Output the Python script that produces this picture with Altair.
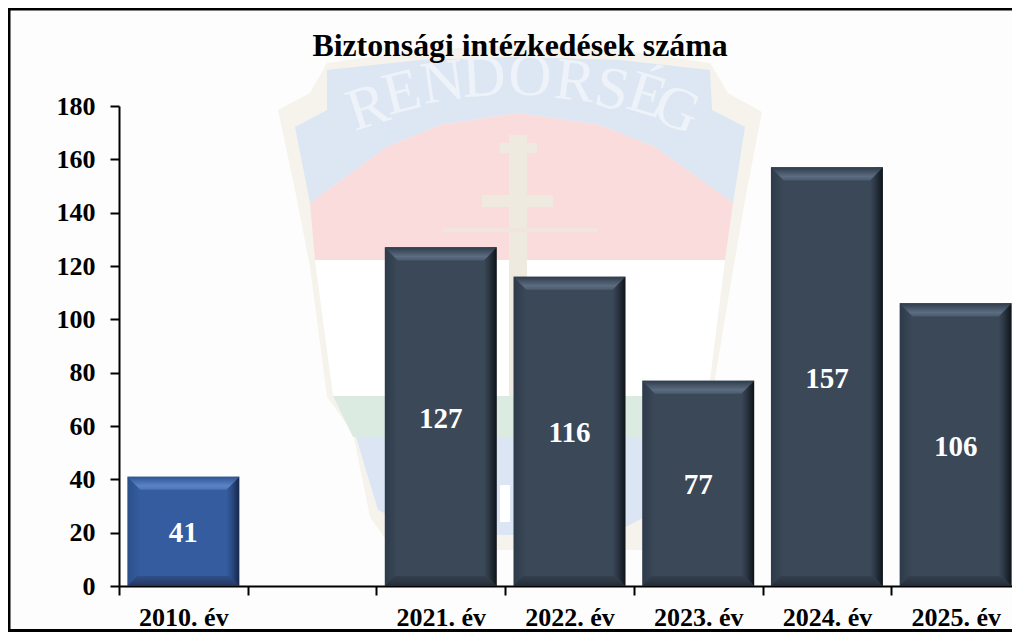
import altair as alt
import pandas as pd

categories = ["2010. év", " ", "2021. év", "2022. év", "2023. év", "2024. év", "2025. év"]
values = [41, None, 127, 116, 77, 157, 106]
series = ["old", "none", "new", "new", "new", "new", "new"]
y_ticks = [0, 20, 40, 60, 80, 100, 120, 140, 160, 180]
title_text = "Biztonsági intézkedések száma"
word_letters = ["R", "E", "N", "D", "O", "R", "S", "É", "G"]

FONT = "Liberation Serif"
df_all = pd.DataFrame({"cat": categories, "value": values, "kind": series, "zero": [0] * 7})
df = df_all[df_all["kind"] != "none"]

x_scale = alt.Scale(domain=categories, range=[0, 901], paddingInner=0, paddingOuter=0)
y_scale = alt.Scale(domain=[0, 180], nice=False)
OX, OY = 119, 106  # plot origin on the page
BOTTOM_PAD = 46
WIDTH = 893


def px(p):
    return p - OX


def py(p):
    return p - OY


# ---- watermark emblem (decoration, drawn behind the data) ----
EM_C = (520, 300)
EM_H = 500


def shape_of(points):
    parts = []
    for i, (a, b) in enumerate(points):
        parts.append(("M" if i == 0 else "L") + f"{(a - EM_C[0]) / EM_H:.4f},{(b - EM_C[1]) / EM_H:.4f}")
    return " ".join(parts) + " Z"


def emblem(points, color):
    return alt.Chart(pd.DataFrame({"a": [0]})).mark_point(
        shape=shape_of(points), size=(2 * EM_H) ** 2, filled=True, fill=color, opacity=1, strokeWidth=0
    ).encode(x=alt.value(px(EM_C[0])), y=alt.value(py(EM_C[1])))


shield = [(278, 110), (310, 93), (327, 63), (420, 50), (520, 45), (620, 50), (710, 63), (728, 93), (762, 112),
          (745, 200), (728, 300), (712, 397), (690, 433), (672, 517), (648, 550), (393, 550), (370, 517),
          (353, 433), (327, 397), (310, 267), (295, 190)]
blue = [(295, 127), (327, 110), (327, 70), (420, 60), (520, 57), (620, 60), (710, 70), (712, 110), (745, 127),
        (733, 203), (655, 147), (600, 125), (517, 113), (440, 125), (387, 147), (310, 203)]
red = [(310, 203), (387, 147), (440, 125), (517, 113), (600, 125), (655, 147), (733, 203), (725, 260), (315, 260)]
white = [(315, 260), (725, 260), (708, 396), (333, 396)]
green = [(333, 396), (708, 396), (690, 437), (353, 437)]
blue2 = [(356, 437), (683, 437), (668, 505), (610, 535), (430, 535), (378, 510)]
cross_v = [(509, 135), (527, 135), (527, 396), (509, 396)]
arm1 = [(500, 143), (537, 143), (537, 153), (500, 153)]
arm2 = [(482, 195), (553, 195), (553, 207), (482, 207)]
beam = [(443, 228), (598, 228), (598, 232), (443, 232)]
letter_i = [(500, 485), (510, 485), (510, 522), (500, 522)]

layers = [
    emblem(shield, "#f5f3ec"), emblem(blue, "#dde6f3"), emblem(red, "#fbdcdc"), emblem(white, "#ffffff"),
    emblem(green, "#dcebe2"), emblem(blue2, "#dbe5f3"), emblem(cross_v, "#efeadf"), emblem(arm1, "#efeadf"),
    emblem(arm2, "#efeadf"), emblem(beam, "#f0e6dc"), emblem(letter_i, "#ffffff"),
]

letter_x = [368, 402, 443, 484, 530, 575, 612, 647, 677]
letter_y = [108, 93, 83, 78, 77, 82, 90, 96, 110]
letter_a = [342, 346, 352, 357, 2, 7, 12, 17, 22]
for ch, lx, ly, la in zip(word_letters, letter_x, letter_y, letter_a):
    layers.append(
        alt.Chart(pd.DataFrame({"t": [ch]})).mark_text(
            font=FONT, fontSize=60, color="#eef3f9", angle=la, baseline="middle", align="center"
        ).encode(x=alt.value(px(lx)), y=alt.value(py(ly)), text="t:N")
    )


# ---- bars ----
def grad_h(c):
    return alt.Gradient(
        gradient="linear", x1=0, x2=1, y1=0, y2=0,
        stops=[alt.GradientStop(offset=0, color=c["left"]), alt.GradientStop(offset=0.11, color=c["body"]),
               alt.GradientStop(offset=0.885, color=c["body"]), alt.GradientStop(offset=0.93, color=c["mid"]),
               alt.GradientStop(offset=1, color=c["right"])],
    )


def grad_v(c0, c1, c2):
    return alt.Gradient(
        gradient="linear", x1=0, x2=0, y1=0, y2=1,
        stops=[alt.GradientStop(offset=0, color=c0), alt.GradientStop(offset=0.7, color=c1),
               alt.GradientStop(offset=1, color=c2)],
    )


palettes = {
    "old": dict(left="#2b4f8a", body="#345c9f", mid="#2b4c84", right="#16264a",
                t0="#2f5494", t1="#5b84c6", t2="#4a73b4", b0="#2f4f8a", b1="#2a3f6a", b2="#233357"),
    "new": dict(left="#2d3a49", body="#3b4858", mid="#2c3744", right="#0e1318",
                t0="#2e3b4b", t1="#5c6c81", t2="#4b5a6d", b0="#343f4e", b1="#2a333f", b2="#222a35"),
}
TOP = "M-1,0 L1,0 L0.77,0.235 L-0.77,0.235 Z"
BOT = "M-0.83,-0.18 L0.83,-0.18 L1,0 L-1,0 Z"
BAR = 112

x_axis = alt.Axis(
    labelFont=FONT, labelFontSize=26, labelFontWeight="bold", labelColor="#000000", labelAngle=0,
    labelPadding=9, tickBand="extent", tickSize=9, tickWidth=2, tickColor="#000000",
    domainColor="#000000", domainWidth=2, grid=False, labelOverlap=False, title=None,
)
y_axis = alt.Axis(
    values=y_ticks, labelFont=FONT, labelFontSize=26, labelFontWeight="bold", labelColor="#000000",
    labelPadding=15, tickSize=9, tickWidth=2, tickColor="#000000", domainColor="#000000",
    domainWidth=2, grid=False, title=None,
)
x_enc = alt.X("cat:N", scale=x_scale, sort=categories, axis=x_axis)
y_enc = alt.Y("value:Q", scale=y_scale, axis=y_axis, stack=None)
y_zero = alt.Y("zero:Q", scale=y_scale, axis=y_axis)

for kind, c in palettes.items():
    sub = alt.Chart(df).transform_filter(alt.datum.kind == kind)
    layers.append(sub.mark_bar(size=BAR, fill=grad_h(c)).encode(x=x_enc, y=y_enc))
    layers.append(sub.mark_point(shape=TOP, size=BAR ** 2, filled=True, opacity=1, strokeWidth=0,
                                 fill=grad_v(c["t0"], c["t1"], c["t2"])).encode(x=x_enc, y=y_enc))
    layers.append(sub.mark_point(shape=BOT, size=BAR ** 2, filled=True, opacity=1, strokeWidth=0,
                                 fill=grad_v(c["b0"], c["b1"], c["b2"])).encode(x=x_enc, y=y_zero))

labels = alt.Chart(df).transform_calculate(mid="datum.value / 2").mark_text(
    font=FONT, fontSize=29, fontWeight="bold", color="#ffffff", baseline="middle", dy=2
).encode(x=x_enc, y=alt.Y("mid:Q", scale=y_scale, axis=y_axis), text=alt.Text("value:Q"))
layers.append(labels)

layers.append(
    alt.Chart(pd.DataFrame({"t": [title_text]})).mark_text(
        font=FONT, fontSize=31.8, fontWeight="bold", color="#000000", baseline="alphabetic", align="center"
    ).encode(x=alt.value(px(520)), y=alt.value(py(56)), text="t:N")
)

# ---- outer frame ----
bottom_y = 480 + BOTTOM_PAD - 1.5
frame = [
    dict(x=-111, x2=WIDTH, y=-97, y2=-97, w=3),
    dict(x=-110, x2=-110, y=-98, y2=bottom_y, w=3),
    dict(x=-111, x2=WIDTH, y=bottom_y, y2=bottom_y, w=3),
]
for f in frame:
    layers.append(
        alt.Chart(pd.DataFrame({"a": [0]})).mark_rule(color="#000000", strokeWidth=f["w"]).encode(
            x=alt.value(f["x"]), x2=alt.value(f["x2"]), y=alt.value(f["y"]), y2=alt.value(f["y2"])
        )
    )

chart = alt.layer(*layers).resolve_scale(x="shared", y="shared").properties(
    width=WIDTH,
    height=480,
    background="#fdfdfd",
    padding={"left": 111, "top": 98, "right": 0, "bottom": BOTTOM_PAD},
    autosize=alt.AutoSizeParams(type="none"),
).configure_view(strokeWidth=0)

chart.save("out.html", embed_options={"renderer": "svg", "actions": False})
